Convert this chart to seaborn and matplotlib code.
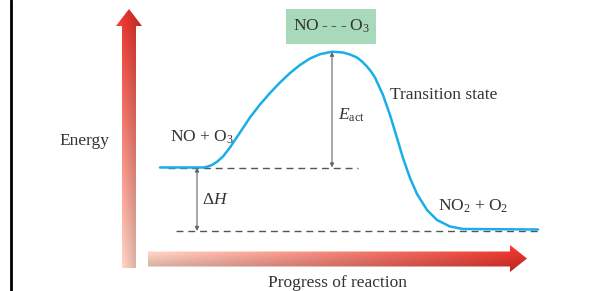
import numpy as np
import pandas as pd
import matplotlib
matplotlib.use("Agg")
import matplotlib.pyplot as plt
import seaborn as sns
from matplotlib.patches import Polygon, Rectangle

# Energy profile (progress, energy)
progress = [160, 203, 207, 212, 217, 223, 230, 240, 250, 260, 270, 280, 290, 300, 310, 320,
            332, 343, 350, 357, 362, 367, 371, 375, 383, 390, 397, 403, 410, 417, 427, 437,
            450, 463, 538]
energy = [123.5, 123.5, 124.2, 126.0, 129.2, 134.5, 143.5, 158.5, 173.5, 186.5, 198, 208.5, 218, 226,
          232.5, 236.8, 239.3, 238.5, 236.5, 233.5, 229.5, 224.5, 219.5, 213.5, 196, 176, 153, 133,
          113, 97, 81, 71, 64.5, 62, 61.5]

reactant_level = 123.5
product_level = 60
peak_level = 239.3
peak_progress = 332

labels = {
    "reactants": "NO + O$_3$",
    "products": "NO$_2$ + O$_2$",
    "complex": "NO\u2009-\u2009-\u2009-\u2009O$_3$",
    "ts": "Transition state",
    "eact": "$E_{\\rm act}$",
    "dh": "$\\Delta H$",
    "ylabel": "Energy",
    "xlabel": "Progress of reaction",
}

sns.set_style("white")
plt.rcParams["font.family"] = ["Liberation Serif", "DejaVu Serif"]
plt.rcParams["mathtext.fontset"] = "custom"
plt.rcParams["mathtext.rm"] = "Liberation Serif"
plt.rcParams["mathtext.it"] = "Liberation Serif:italic"

fig = plt.figure(figsize=(5.96, 2.91), dpi=100)
ax = fig.add_axes([0, 0, 1, 1])
ax.axis("off")

# left border line
ax.plot([10.5, 10.5], [0, 291], color="black", lw=2)


def gradient_arrow(verts, extent, vertical):
    n = 200
    t = np.linspace(0, 1, n)
    light = np.array([249, 205, 190]) / 255
    dark = np.array([226, 48, 40]) / 255
    base = light[None, :] + (dark - light)[None, :] * t[:, None]
    s = np.linspace(1.12, 0.8, 40)  # bevel shading across the width
    if vertical:
        img = base[:, None, :] * s[None, :, None]
    else:
        img = base[None, :, :] * s[::-1][:, None, None]
    img = np.clip(img, 0, 1)
    poly = Polygon(verts, closed=True, facecolor="none", edgecolor="none")
    ax.add_patch(poly)
    im = ax.imshow(img, extent=extent, origin="lower", aspect="auto", zorder=1)
    im.set_clip_path(poly)


# vertical (energy) arrow
gradient_arrow([(122, 23), (136, 23), (136, 265), (142, 265), (129, 282), (116, 265), (122, 265)],
               (116, 142, 23, 282), vertical=True)
# horizontal (progress) arrow
gradient_arrow([(148, 24.5), (510, 24.5), (510, 19), (527, 32.5), (510, 46), (510, 39.5), (148, 39.5)],
               (148, 527, 19, 46), vertical=False)

# dashed reference levels
ax.plot([168, 358], [reactant_level, reactant_level], color="#555555", lw=1, ls=(0, (5, 3.5)))
ax.plot([176, 538], [product_level, product_level], color="#555555", lw=1, ls=(0, (5, 3.5)))

# energy curve
df = pd.DataFrame({"progress": progress, "energy": energy})
sns.lineplot(data=df, x="progress", y="energy", color="#1aaee8", lw=1.8, ax=ax, sort=False, zorder=3)

# double-headed arrows
arrow_kw = dict(arrowstyle="<|-|>", color="#666666", lw=0.8, mutation_scale=6, shrinkA=0, shrinkB=0)
ax.annotate("", xy=(peak_progress, peak_level), xytext=(peak_progress, reactant_level), arrowprops=arrow_kw)
ax.annotate("", xy=(197, reactant_level), xytext=(197, product_level), arrowprops=arrow_kw)

# activated complex box
ax.add_patch(Rectangle((286, 247), 90, 35, facecolor="#a9d9bb", edgecolor="none", zorder=2))

fs = 12.5
tc = "#333333"
ax.text(331, 265, labels["complex"], ha="center", va="center", fontsize=fs, color=tc, zorder=4)
ax.text(170, 154, labels["reactants"], ha="left", va="center", fontsize=fs, color=tc)
ax.text(338, 176, labels["eact"], ha="left", va="center", fontsize=fs, color=tc)
ax.text(390, 196, labels["ts"], ha="left", va="center", fontsize=fs, color=tc)
ax.text(438, 85, labels["products"], ha="left", va="center", fontsize=fs, color=tc)
ax.text(202, 91, labels["dh"], ha="left", va="center", fontsize=fs, color=tc)
ax.text(84, 150, labels["ylabel"], ha="center", va="center", fontsize=fs, color=tc)
ax.text(337, 8, labels["xlabel"], ha="center", va="center", fontsize=fs, color=tc)

ax.set_xlim(0, 596)
ax.set_ylim(0, 291)

fig.savefig("out.png", dpi=100)
